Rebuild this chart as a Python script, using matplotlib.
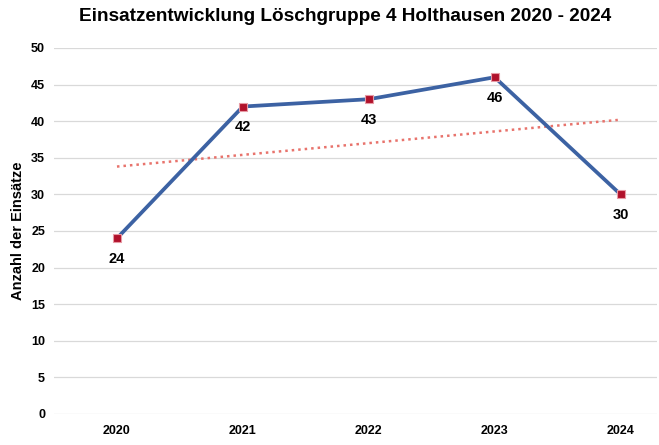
import numpy as np
import matplotlib.pyplot as plt

plt.rcParams['font.family'] = ['Liberation Sans', 'DejaVu Sans']

years = ['2020', '2021', '2022', '2023', '2024']
einsaetze = [24, 42, 43, 46, 30]
y_ticks = [0, 5, 10, 15, 20, 25, 30, 35, 40, 45, 50]

x = np.arange(len(years))

fig = plt.figure(figsize=(6.59, 4.45), dpi=100)
ax = fig.add_axes([0.082, 0.0697, 0.915, 0.8225])

# linear trend (as in the original spreadsheet chart)
k, d = np.polyfit(x, einsaetze, 1)
ax.plot(x, k * x + d, color='#E8736C', lw=1.8, ls=(0, (1, 1.6)), zorder=2)

ax.plot(x, einsaetze, color='#3C62A3', lw=2.7, zorder=3,
        marker='s', ms=6, mfc='#B0112B', mec='#E79AA4', mew=0.8)

for xi, v in zip(x, einsaetze):
    ax.annotate(str(v), (xi, v), xytext=(0, -15), textcoords='offset points',
                ha='center', va='center', fontsize=10.5, fontweight='bold')

ax.set_xlim(-0.5, 4.29)
ax.set_ylim(0, 50)
ax.set_yticks(y_ticks)
ax.set_xticks(x)
ax.set_xticklabels(years)
ax.grid(axis='y', color='#D9D9D9', lw=0.9)
ax.set_axisbelow(True)
for s in ax.spines.values():
    s.set_visible(False)
ax.tick_params(length=0, labelsize=9, pad=8)
for lab in ax.get_xticklabels() + ax.get_yticklabels():
    lab.set_fontweight('bold')
ax.tick_params(axis='y', pad=6.5)
ax.set_ylabel('Anzahl der Einsätze', fontsize=10.5, fontweight='bold', labelpad=4)

fig.text(0.524, 0.962, 'Einsatzentwicklung Löschgruppe 4 Holthausen 2020 - 2024',
         ha='center', va='center', fontsize=13.7, fontweight='bold')

fig.savefig('out.png')
